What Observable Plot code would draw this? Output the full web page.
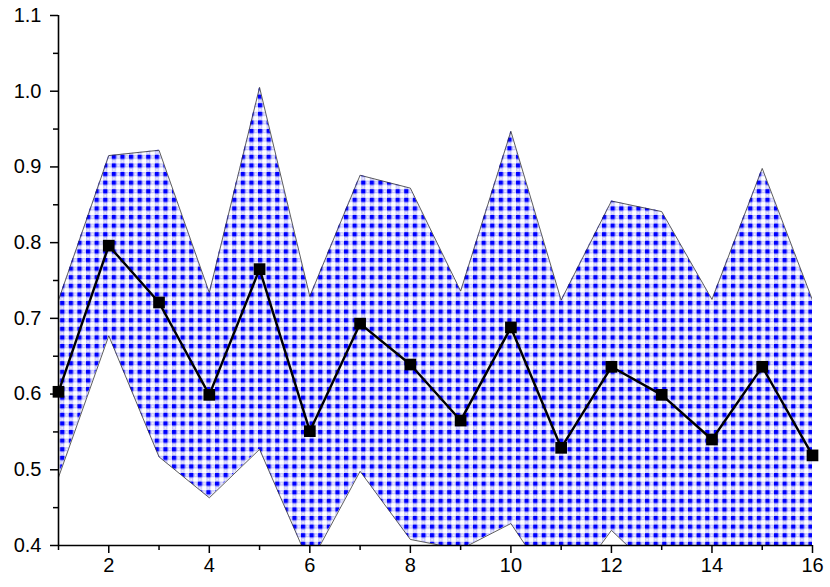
<!DOCTYPE html>
<html>
<head>
<meta charset="utf-8">
<script src="https://cdn.jsdelivr.net/npm/d3@7"></script>
<script src="https://cdn.jsdelivr.net/npm/@observablehq/plot@0.6"></script>
<style>
  html, body { margin: 0; padding: 0; background: #fff; }
  #chart svg text { font-family: "Liberation Sans", Arial, sans-serif !important; font-size: 20px !important; }
</style>
</head>
<body>
<div id="chart"></div>
<script>
const xs = [1, 2, 3, 4, 5, 6, 7, 8, 9, 10, 11, 12, 13, 14, 15, 16];
const meanVals = [0.603, 0.796, 0.721, 0.599, 0.765, 0.551, 0.693, 0.639, 0.565, 0.688, 0.529, 0.636, 0.599, 0.540, 0.636, 0.519];
const upperVals = [0.724, 0.915, 0.922, 0.734, 1.005, 0.729, 0.889, 0.872, 0.736, 0.947, 0.724, 0.855, 0.841, 0.725, 0.898, 0.724];
const lowerVals = [0.490, 0.677, 0.517, 0.463, 0.527, 0.375, 0.498, 0.408, 0.395, 0.429, 0.330, 0.420, 0.357, 0.355, 0.374, 0.314];
const yTicks = [0.4, 0.5, 0.6, 0.7, 0.8, 0.9, 1.0, 1.1];
const yMinor = [0.45, 0.55, 0.65, 0.75, 0.85, 0.95, 1.05];
const xTicks = [2, 4, 6, 8, 10, 12, 14, 16];
const xMinor = [1, 3, 5, 7, 9, 11, 13, 15];

const data = xs.map((x, i) => ({x, mean: meanVals[i], upper: upperVals[i], lower: lowerVals[i]}));

const font = "Liberation Sans, Arial, sans-serif";

const svg = Plot.plot({
  width: 830,
  height: 587,
  marginLeft: 58,
  marginRight: 18,
  marginTop: 15,
  marginBottom: 42,
  style: {fontFamily: font, fontSize: "20px", background: "#fff", color: "#000"},
  x: {domain: [1, 16]},
  y: {domain: [0.4, 1.1]},
  marks: [
    Plot.areaY(data, {x: "x", y1: "lower", y2: "upper", fill: "url(#checkpat)", clip: "frame"}),
    Plot.line(data, {x: "x", y: "upper", stroke: "#333", strokeWidth: 0.8, clip: "frame"}),
    Plot.line(data, {x: "x", y: "lower", stroke: "#333", strokeWidth: 0.8, clip: "frame"}),
    Plot.axisY({ticks: yTicks, anchor: "left", tickSize: 8, tickPadding: 9, tickFormat: d3.format(".1f"), strokeWidth: 1.5, fontSize: 20, label: null}),
    Plot.axisY({ticks: yMinor, anchor: "left", tickSize: 5, tickFormat: () => "", strokeWidth: 1.5, label: null}),
    Plot.axisX({ticks: xTicks, anchor: "bottom", tickSize: 8, tickPadding: 4, tickFormat: d3.format("d"), strokeWidth: 1.5, fontSize: 20, label: null}),
    Plot.axisX({ticks: xMinor, anchor: "bottom", tickSize: 5, tickFormat: () => "", strokeWidth: 1.5, label: null}),
    Plot.ruleX([1], {strokeWidth: 1.6}),
    Plot.ruleY([0.4], {strokeWidth: 1.6}),
    Plot.line(data, {x: "x", y: "mean", stroke: "#000", strokeWidth: 2.4}),
    Plot.dot(data, {x: "x", y: "mean", symbol: "square", r: 6.6, fill: "#000", stroke: "none"})
  ]
});

// pattern definition for the checkered blue fill
const p = 8.6, h = 4.3;
const defs = d3.select(svg).insert("defs", ":first-child");
const pat = defs.append("pattern")
  .attr("id", "checkpat")
  .attr("patternUnits", "userSpaceOnUse")
  .attr("width", p)
  .attr("height", p);
pat.append("rect").attr("width", p).attr("height", p).attr("fill", "#ffffff");
for (const [cx, cy] of [[h, 0], [0, h]]) {
  pat.append("rect").attr("x", cx + 0.7).attr("y", cy + 0.7).attr("width", h - 1.4).attr("height", h - 1.4)
    .attr("fill", "#eeeeff").attr("stroke", "#b4b4f8").attr("stroke-width", 0.9);
}
pat.append("rect").attr("x", 0).attr("y", 0).attr("width", h).attr("height", h).attr("fill", "#0000ff");

document.getElementById("chart").appendChild(svg);
</script>
</body>
</html>
